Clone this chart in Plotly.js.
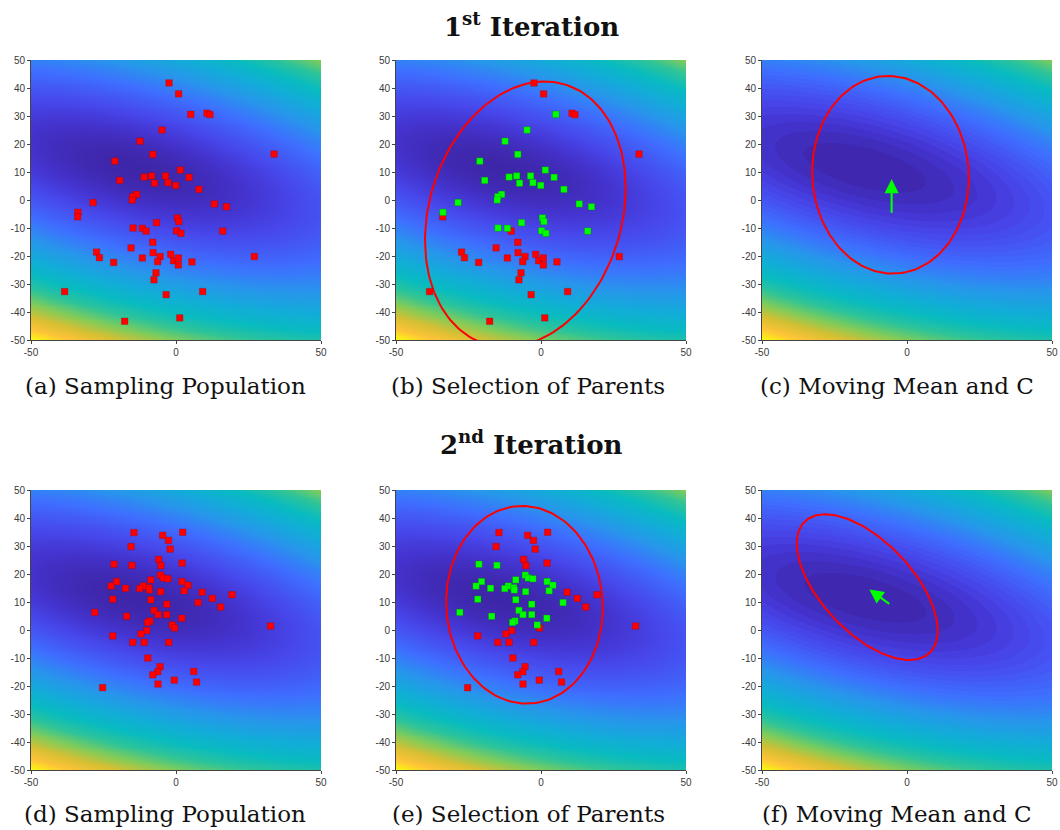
<!DOCTYPE html>
<html>
<head>
<meta charset="utf-8">
<script src="https://cdn.plot.ly/plotly-3.0.1.min.js"></script>
<style>html,body{margin:0;padding:0;background:#fff;}#chart{width:1060px;height:830px;}</style>
</head>
<body>
<div id="chart"></div>
<script>
// ---------- Data ----------
// Iteration 1 sampled population
const pop1X = [-2.4, 0.9, 5.1, 10.7, 11.7, -4.8, -12.4, -8.0, 33.8, -21.1, 1.5, -19.4, -11.0, -8.4, -3.6, 4.5, -7.4, -2.8, -0.1, 7.9, -13.6, -14.9, -15.1, -28.6, 13.2, 17.4, -33.8, -33.9, 0.5, 1.0, -6.7, -14.8, -11.6, -10.3, 0.2, 1.7, 16.1, -8.0, -15.5, -27.4, -26.4, -21.5, -11.6, -7.9, -5.5, -6.3, -1.8, -0.8, 0.8, 0.8, 5.5, 27.0, -6.9, -7.6, -38.4, -3.4, 9.2, -17.7, 1.3];
const pop1Y = [41.8, 37.9, 30.6, 31.0, 30.5, 25.0, 21.0, 16.3, 16.4, 13.9, 10.7, 7.0, 8.2, 8.6, 8.6, 8.1, 6.0, 6.2, 5.2, 3.8, 2.0, 1.2, 0.0, -0.9, -1.4, -2.4, -4.4, -6.0, -6.4, -7.7, -8.1, -10.0, -10.1, -11.1, -11.0, -11.9, -11.1, -15.1, -17.1, -18.6, -20.6, -22.3, -20.7, -18.8, -20.2, -22.0, -19.4, -21.7, -20.7, -23.2, -22.1, -20.2, -26.0, -28.5, -32.7, -33.8, -32.7, -43.3, -42.1];
// 1 = selected parent (green), 0 = rejected (red)
const sel1 = [0,0,1,0,0,1,1,1,0,1,1,1,1,1,1,1,1,1,1,1,1,1,1,1,1,1,1,0,1,1,1,1,1,0,1,1,1,0,0,0,0,0,0,0,0,0,0,0,0,0,0,0,0,0,0,0,0,0,0];

// Iteration 2 sampled population
const pop2X = [-14.5, 2.3, -4.6, -2.6, -15.5, -2.0, -6.0, 2.1, -21.4, -15.2, -5.2, -5.4, -4.4, -2.8, -8.7, -20.5, 2.1, 4.1, -22.4, -11.3, -17.4, -12.5, -9.4, -9.2, -5.3, 2.8, 9.0, 12.5, 19.3, -21.8, -8.7, -3.2, 7.6, 15.4, -28.0, -7.6, -6.2, -3.2, -17.0, 2.0, -9.0, -9.8, -1.3, -0.5, -10.1, 32.6, -21.8, -12.1, -14.9, -11.0, -2.5, -9.7, -5.5, -6.3, -8.0, 6.1, 7.1, -0.6, -6.2, -25.3];
const pop2Y = [34.8, 34.9, 33.8, 32.0, 29.8, 28.9, 25.2, 23.9, 23.5, 23.1, 23.0, 19.6, 18.6, 18.3, 17.9, 17.3, 17.3, 16.0, 15.7, 15.7, 14.9, 14.8, 15.1, 14.3, 13.7, 14.0, 13.5, 11.3, 12.6, 11.0, 10.8, 9.2, 9.8, 8.2, 6.3, 7.0, 5.5, 5.5, 4.9, 4.2, 3.2, 2.7, 1.8, 0.7, -0.2, 1.4, -2.1, -1.4, -4.4, -4.4, -4.4, -10.0, -13.1, -14.9, -16.0, -14.8, -18.6, -17.9, -19.3, -20.6];
const sel2 = [0,0,0,0,0,0,0,0,1,1,0,1,1,1,1,1,1,1,1,1,1,1,1,1,1,1,0,0,0,1,1,1,1,0,1,1,1,1,1,1,1,1,1,0,0,0,0,0,0,0,0,0,0,0,0,0,0,0,0,0];

// Search distributions (mean, std devs, correlation) drawn as ellipses
const distNames = ['iter1 old', 'iter1 new', 'iter2 new'];
const distMeanX = [-5.4, -5.7, -13.7];
const distMeanY = [-5.1, 9.0, 15.3];
const distSdX   = [34.6, 27.0, 24.3];
const distSdY   = [47.4, 35.3, 26.0];
const distRho   = [0.194, -0.03, -0.597];

// Mean shifts (arrows): tail -> head
const arrowTailX = [-5.3, -5.6];
const arrowTailY = [-5.1, 8.9];
const arrowHeadX = [-5.3, -13.0];
const arrowHeadY = [7.5, 14.5];

// Objective landscape (quadratic): centre, Hessian terms, colour exponent
const fCenter = [-14.5, 11.5];
const fHess = [0.179, 0.24, 1.0];   // A, B, C  -> A dx^2 + 2B dx dy + C dy^2
const fPower = 0.9;

const axisTicksX = [-50, 0, 50];
const axisTicksY = [-50, -40, -30, -20, -10, 0, 10, 20, 30, 40, 50];

const captions = ['(a) Sampling Population', '(b) Selection of Parents', '(c) Moving Mean and C',
                  '(d) Sampling Population', '(e) Selection of Parents', '(f) Moving Mean and C'];
const rowTitles = ['<b>1<sup>st</sup> Iteration</b>', '<b>2<sup>nd</sup> Iteration</b>'];

// ---------- Build ----------
const parula = [
  [0.0, 'rgb(62,38,168)'], [0.05, 'rgb(68,52,208)'], [0.1, 'rgb(71,72,236)'], [0.2, 'rgb(62,111,255)'],
  [0.3, 'rgb(39,150,235)'], [0.4, 'rgb(18,172,216)'], [0.5, 'rgb(8,187,192)'],
  [0.6, 'rgb(46,196,152)'], [0.7, 'rgb(129,204,89)'], [0.8, 'rgb(214,191,51)'],
  [0.9, 'rgb(254,195,56)'], [1.0, 'rgb(249,251,14)']
];

const gx = [], gy = [];
for (let v = -50; v <= 50; v += 1) { gx.push(v); gy.push(v); }
const gz = gy.map(y => gx.map(x => {
  const dx = x - fCenter[0], dy = y - fCenter[1];
  return Math.pow(fHess[0]*dx*dx + 2*fHess[1]*dx*dy + fHess[2]*dy*dy, fPower);
}));
let zmin = Infinity, zmax = -Infinity;
gz.forEach(r => r.forEach(v => { if (v < zmin) zmin = v; if (v > zmax) zmax = v; }));

function ellipse(i) {
  const xs = [], ys = [];
  const cx = distMeanX[i], cy = distMeanY[i], sx = distSdX[i], sy = distSdY[i], r = distRho[i];
  for (let k = 0; k <= 180; k++) {
    const t = 2 * Math.PI * k / 180;
    xs.push(cx + sx * Math.cos(t));
    ys.push(cy + sy * (r * Math.cos(t) + Math.sqrt(1 - r*r) * Math.sin(t)));
  }
  return {xs, ys};
}

const traces = [];
const axSuffix = ['', '2', '3', '4', '5', '6'];
function bg(p, contour) {
  const s = axSuffix[p];
  if (contour) {
    traces.push({type: 'contour', x: gx, y: gy, z: gz, xaxis: 'x' + s, yaxis: 'y' + s,
      colorscale: parula, zmin: zmin, zmax: zmax, showscale: false, hoverinfo: 'skip',
      autocontour: false, contours: {start: zmin, end: zmax, size: (zmax - zmin) / 60, coloring: 'fill', showlines: false},
      line: {width: 0, smoothing: 1.3}});
  } else {
    traces.push({type: 'heatmap', x: gx, y: gy, z: gz, xaxis: 'x' + s, yaxis: 'y' + s,
      colorscale: parula, zmin: zmin, zmax: zmax, zsmooth: 'best', showscale: false, hoverinfo: 'skip'});
  }
}
function pts(p, X, Y, color, edge) {
  const s = axSuffix[p];
  traces.push({type: 'scatter', mode: 'markers', x: X, y: Y, xaxis: 'x' + s, yaxis: 'y' + s,
    marker: {symbol: 'square', size: 6.5, color: color, line: {width: 0.6, color: edge}},
    showlegend: false, hoverinfo: 'skip', cliponaxis: true});
}
function ell(p, i) {
  const s = axSuffix[p];
  const e = ellipse(i);
  traces.push({type: 'scatter', mode: 'lines', x: e.xs, y: e.ys, xaxis: 'x' + s, yaxis: 'y' + s,
    line: {color: '#ff0000', width: 2}, showlegend: false, hoverinfo: 'skip'});
}
function subset(arr, flags, want) { return arr.filter((v, i) => flags[i] === want); }

const RED = '#ff0000', GREEN = '#00ff00', REDEDGE = 'rgba(150,0,0,0.5)', GREENEDGE = 'rgba(0,120,0,0.5)';
// (a)
bg(0, false);
pts(0, pop1X, pop1Y, RED, REDEDGE);
// (b)
bg(1, false);
ell(1, 0);
pts(1, subset(pop1X, sel1, 0), subset(pop1Y, sel1, 0), RED, REDEDGE);
pts(1, subset(pop1X, sel1, 1), subset(pop1Y, sel1, 1), GREEN, GREENEDGE);
// (c)
bg(2, true);
ell(2, 1);
// (d)
bg(3, false);
pts(3, pop2X, pop2Y, RED, REDEDGE);
// (e)
bg(4, false);
ell(4, 1);
pts(4, subset(pop2X, sel2, 0), subset(pop2Y, sel2, 0), RED, REDEDGE);
pts(4, subset(pop2X, sel2, 1), subset(pop2Y, sel2, 1), GREEN, GREENEDGE);
// (f)
bg(5, true);
ell(5, 2);

const colDom = [[31/1060, 321/1060], [396/1060, 686/1060], [762/1060, 1052/1060]];
const rowDom = [[1 - 340/830, 1 - 60/830], [1 - 770/830, 1 - 490/830]];
const tickFont = {family: 'Liberation Sans, Arial, sans-serif', size: 10, color: '#3a3a3a'};

const layout = {
  width: 1060, height: 830,
  margin: {l: 0, r: 0, t: 0, b: 0},
  paper_bgcolor: '#ffffff', plot_bgcolor: '#ffffff',
  showlegend: false,
  annotations: []
};
for (let p = 0; p < 6; p++) {
  const s = axSuffix[p];
  const row = Math.floor(p / 3), col = p % 3;
  layout['xaxis' + s] = {domain: colDom[col], range: [-50, 50], tickvals: axisTicksX, ticktext: axisTicksX.map(String),
    ticks: 'outside', ticklen: 3, tickcolor: '#444', showline: true, linecolor: '#444', linewidth: 1,
    showgrid: false, zeroline: false, tickfont: tickFont, anchor: 'y' + s, fixedrange: true};
  layout['yaxis' + s] = {domain: rowDom[row], range: [-50, 50], tickvals: axisTicksY, ticktext: axisTicksY.map(String),
    ticks: 'outside', ticklen: 3, tickcolor: '#444', showline: true, linecolor: '#444', linewidth: 1,
    showgrid: false, zeroline: false, tickfont: tickFont, anchor: 'x' + s, fixedrange: true};
}
// mean-shift arrows
const arrowAxes = ['3', '6'];
for (let i = 0; i < 2; i++) {
  const s = arrowAxes[i];
  layout.annotations.push({xref: 'x' + s, yref: 'y' + s, axref: 'x' + s, ayref: 'y' + s,
    x: arrowHeadX[i], y: arrowHeadY[i], ax: arrowTailX[i], ay: arrowTailY[i], text: '',
    showarrow: true, arrowhead: 2, arrowsize: 1.3, arrowwidth: 2.2, arrowcolor: '#00ff00', standoff: 0, startstandoff: 0});
}
// captions
const capX = [165, 528, 897, 165, 528, 897];
const capY = [386, 386, 386, 814, 814, 814];
captions.forEach((t, i) => {
  layout.annotations.push({xref: 'paper', yref: 'paper', x: capX[i] / 1060, y: 1 - capY[i] / 830,
    xanchor: 'center', yanchor: 'middle', text: t, showarrow: false,
    font: {family: 'DejaVu Serif, serif', size: 23, color: '#111'}});
});
// row titles
const titleY = [25, 443];
rowTitles.forEach((t, i) => {
  layout.annotations.push({xref: 'paper', yref: 'paper', x: 531 / 1060, y: 1 - titleY[i] / 830,
    xanchor: 'center', yanchor: 'middle', text: t, showarrow: false,
    font: {family: 'DejaVu Serif, serif', size: 26, color: '#111'}});
});

Plotly.newPlot('chart', traces, layout, {staticPlot: true, displayModeBar: false});
</script>
</body>
</html>
